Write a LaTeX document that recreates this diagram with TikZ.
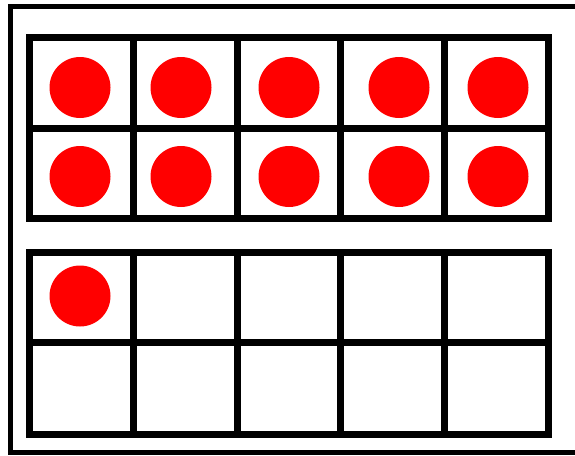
\documentclass[tikz,border=0pt]{standalone}
\begin{document}
\begin{tikzpicture}[x=1pt,y=-1pt,
  frameline/.style={line width=7pt,draw=black,line join=miter},
  outerline/.style={line width=5pt,draw=black},
  counter/.style={circle,fill=red,draw=none,minimum size=61pt,inner sep=0pt}]
\useasboundingbox (0,0) rectangle (575,455);
\clip (0,0) rectangle (575,455);
\fill[white] (0,0) rectangle (575,455);
% outer border (right side runs past the edge)
\draw[outerline] (10.5,6.5) rectangle (590,452);
% top ten-frame
\draw[frameline] (29.5,37.5) rectangle (548,218);
\draw[frameline] (29.5,128) -- (548,128);
\foreach \x in {133.3,237,340.7,444.3} \draw[frameline] (\x,37.5) -- (\x,218);
% bottom ten-frame
\draw[frameline] (29.5,252) rectangle (548,434.5);
\draw[frameline] (29.5,342) -- (548,342);
\foreach \x in {133.3,237,340.7,444.3} \draw[frameline] (\x,252) -- (\x,434.5);
% counters
\foreach \x [count=\i] in {80,181,289,399,498} {
  \node[counter] (a\i) at (\x,87.5) {};
  \node[counter] (b\i) at (\x,176.5) {};
}
\node[counter] (c1) at (80,296) {};
\end{tikzpicture}
\end{document}
